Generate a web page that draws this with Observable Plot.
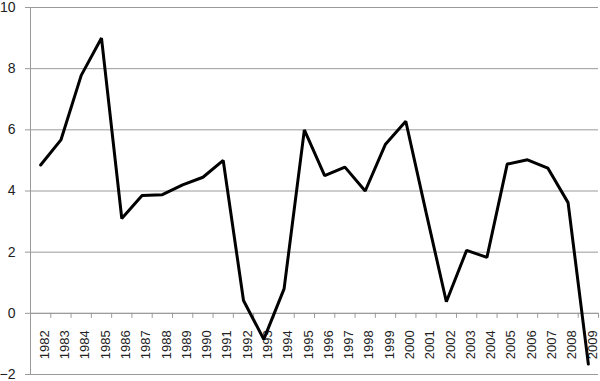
<!DOCTYPE html>
<html><head><meta charset="utf-8">
<script src="https://cdn.jsdelivr.net/npm/d3@7"></script>
<script src="https://cdn.jsdelivr.net/npm/@observablehq/plot@0.6"></script>
<style>body{margin:0;background:#fff}</style>
</head><body><div id="chart"></div>
<script>
const years = [1982,1983,1984,1985,1986,1987,1988,1989,1990,1991,1992,1993,1994,1995,1996,1997,1998,1999,2000,2001,2002,2003,2004,2005,2006,2007,2008,2009];
const values = [4.85,5.67,7.78,9.0,3.1,3.85,3.88,4.2,4.45,5.0,0.42,-0.85,0.8,6.0,4.5,4.78,4.0,5.53,6.28,3.3,0.38,2.06,1.83,4.88,5.02,4.75,3.62,-1.66];
const yTicks = [-2,0,2,4,6,8,10];

const data = years.map((y,i)=>({year:y, value:values[i]}));
const bounds = d3.range(years[0]-0.5, years[years.length-1]+1, 1);
const font = "Liberation Sans, Arial, sans-serif";

const chart = Plot.plot({
  width: 600, height: 381,
  marginLeft: 30, marginRight: 2, marginTop: 7, marginBottom: 7,
  style: {fontFamily: font, fontSize: "13px", color: "#333", background: "#fff"},
  x: {type: "linear", domain: [years[0]-0.5, years[years.length-1]+0.5], axis: null},
  y: {type: "linear", domain: [-2, 10]},
  marks: [
    Plot.gridY(yTicks, {stroke: "#9a9a9a", strokeOpacity: 1, strokeWidth: 1}),
    Plot.axisY(yTicks, {tickSize: 5, tickPadding: 10, stroke: "#9a9a9a", label: null, fontSize: 14, fill: "#222"}),
    Plot.ruleX([years[0]-0.5], {stroke: "#9a9a9a"}),
    Plot.ruleY([0], {stroke: "#9a9a9a"}),
    Plot.ruleX(bounds, {x: d=>d, y1: 0, y2: 0, insetTop: 0, insetBottom: -5, stroke: "#9a9a9a", strokeWidth: 1}),
    Plot.text(years, {x: d=>d, y: 0, text: d=>String(d), rotate: -90, textAnchor: "end", dx: 4, dy: 17, fontSize: 13, fill: "#222"}),
    Plot.line(data, {x: "year", y: "value", stroke: "#000", strokeWidth: 3, strokeLinejoin: "miter"})
  ]
});
document.getElementById("chart").appendChild(chart);
</script></body></html>
